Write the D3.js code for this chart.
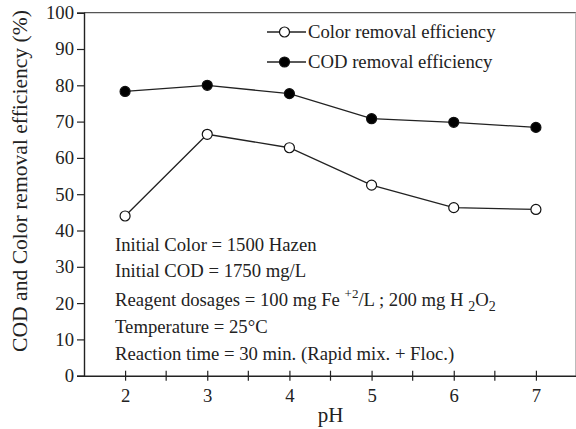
<!doctype html>
<html lang="en">
<head>
<meta charset="UTF-8">
<title>pH effect</title>
<script src="https://d3js.org/d3.v7.min.js"></script>
<style>
  body { margin: 0; background: #fff; }
  text { font-family: "Liberation Serif", "Times New Roman", serif; fill: #222; }
</style>
</head>
<body>
<script>
  var pH = [2, 3, 4, 5, 6, 7];
  var codRemoval = [78.3, 80.0, 77.7, 70.8, 69.8, 68.4];
  var colorRemoval = [44.0, 66.5, 62.8, 52.5, 46.3, 45.8];
  var yTicks = [0, 10, 20, 30, 40, 50, 60, 70, 80, 90, 100];
  var xTicks = [2, 3, 4, 5, 6, 7];
  var xMinorTicks = [2.5, 3.5, 4.5, 5.5, 6.5];
  var seriesNames = ["Color removal efficiency", "COD removal efficiency"];

  var width = 576, height = 429;
  var svg = d3.select("body").append("svg")
      .attr("width", width)
      .attr("height", height);

  var x = d3.scaleLinear().domain([1.5, 7.5]).range([84, 577]);
  var y = d3.scaleLinear().domain([0, 100]).range([375.7, 12.7]);

  // frame (top + right)
  svg.append("line").attr("x1", 84).attr("x2", 576).attr("y1", y(100)).attr("y2", y(100))
      .attr("stroke", "#555").attr("stroke-width", 1.2);
  svg.append("line").attr("x1", 575.5).attr("x2", 575.5).attr("y1", y(100)).attr("y2", y(0))
      .attr("stroke", "#bbb").attr("stroke-width", 1);

  // y axis
  var axisY = d3.axisLeft(y).tickValues(yTicks).tickSize(7).tickPadding(3);
  var gy = svg.append("g").attr("transform", "translate(84,0)").call(axisY);
  gy.select(".domain").attr("stroke", "#222").attr("stroke-width", 1.4);
  gy.selectAll(".tick line").attr("stroke", "#222").attr("stroke-width", 1.2);
  gy.selectAll("text").style("font-size", "18.7px").style("font-family", "Liberation Serif").attr("fill", "#222");

  // x axis: ticks cross the axis line
  var axisX = d3.axisBottom(x).tickValues(xTicks).tickFormat(d3.format("d"))
      .tickSize(5).tickPadding(8).tickSizeOuter(0);
  var gx = svg.append("g").attr("transform", "translate(0," + y(0) + ")").call(axisX);
  gx.select(".domain").attr("stroke", "#222").attr("stroke-width", 1.4);
  gx.selectAll(".tick line").attr("y1", -5).attr("stroke", "#222").attr("stroke-width", 1.2);
  gx.selectAll("text").style("font-size", "18.7px").style("font-family", "Liberation Serif").attr("fill", "#222");
  gx.selectAll(".minor").data(xMinorTicks).enter().append("line")
      .attr("class", "minor")
      .attr("x1", function(d) { return x(d); }).attr("x2", function(d) { return x(d); })
      .attr("y1", -5).attr("y2", 5)
      .attr("stroke", "#222").attr("stroke-width", 1.2);

  // axis titles
  svg.append("text").attr("x", x(4.5)).attr("y", 422).attr("text-anchor", "middle")
      .style("font-size", "21px").text("pH");
  var yTitle = svg.append("text").attr("transform", "translate(27,181) rotate(-90)")
      .attr("text-anchor", "middle")
      .style("font-size", "20px").text("COD and Color removal efficiency (%)");
  // fit title to the ~342px it spans in the original
  var len = yTitle.node().getComputedTextLength();
  yTitle.style("font-size", (20 * 342 / len) + "px");

  var line = d3.line()
      .x(function(d, i) { return x(pH[i]); })
      .y(function(d) { return y(d); });

  function drawSeries(values, fill) {
    svg.append("path").datum(values).attr("d", line)
        .attr("fill", "none").attr("stroke", "#222").attr("stroke-width", 1.3);
    svg.selectAll(null).data(values).enter().append("circle")
        .attr("cx", function(d, i) { return x(pH[i]); })
        .attr("cy", function(d) { return y(d); })
        .attr("r", 5)
        .attr("fill", fill).attr("stroke", "#111").attr("stroke-width", 1.2);
  }
  drawSeries(codRemoval, "#000");
  drawSeries(colorRemoval, "#fff");

  // legend
  var legend = svg.append("g");
  [[seriesNames[0], "#fff", 32], [seriesNames[1], "#000", 62]].forEach(function(s) {
    legend.append("line").attr("x1", 267).attr("x2", 306).attr("y1", s[2]).attr("y2", s[2])
        .attr("stroke", "#222").attr("stroke-width", 1.3);
    legend.append("circle").attr("cx", 284.5).attr("cy", s[2]).attr("r", 5)
        .attr("fill", s[1]).attr("stroke", "#111").attr("stroke-width", 1.2);
    legend.append("text").attr("x", 308).attr("y", s[2] + 6).style("font-size", "18.7px").text(s[0]);
  });

  // annotations
  var notes = svg.append("g").style("font-size", "18.7px");
  notes.append("text").attr("x", 115).attr("y", 251).text("Initial Color = 1500 Hazen");
  notes.append("text").attr("x", 115).attr("y", 277).text("Initial COD = 1750 mg/L");
  var r = notes.append("text").attr("x", 115).attr("y", 306);
  r.append("tspan").text("Reagent dosages = 100 mg Fe ");
  r.append("tspan").attr("dy", -8).style("font-size", "13px").text("+2");
  r.append("tspan").attr("dy", 8).text("/L ; 200 mg H ");
  r.append("tspan").attr("dy", 5).style("font-size", "14px").text("2");
  r.append("tspan").attr("dy", -5).text("O");
  r.append("tspan").attr("dy", 5).style("font-size", "14px").text("2");
  notes.append("text").attr("x", 115).attr("y", 333).text("Temperature = 25°C");
  notes.append("text").attr("x", 115).attr("y", 360).text("Reaction time = 30 min. (Rapid mix. + Floc.)");
</script>
</body>
</html>
